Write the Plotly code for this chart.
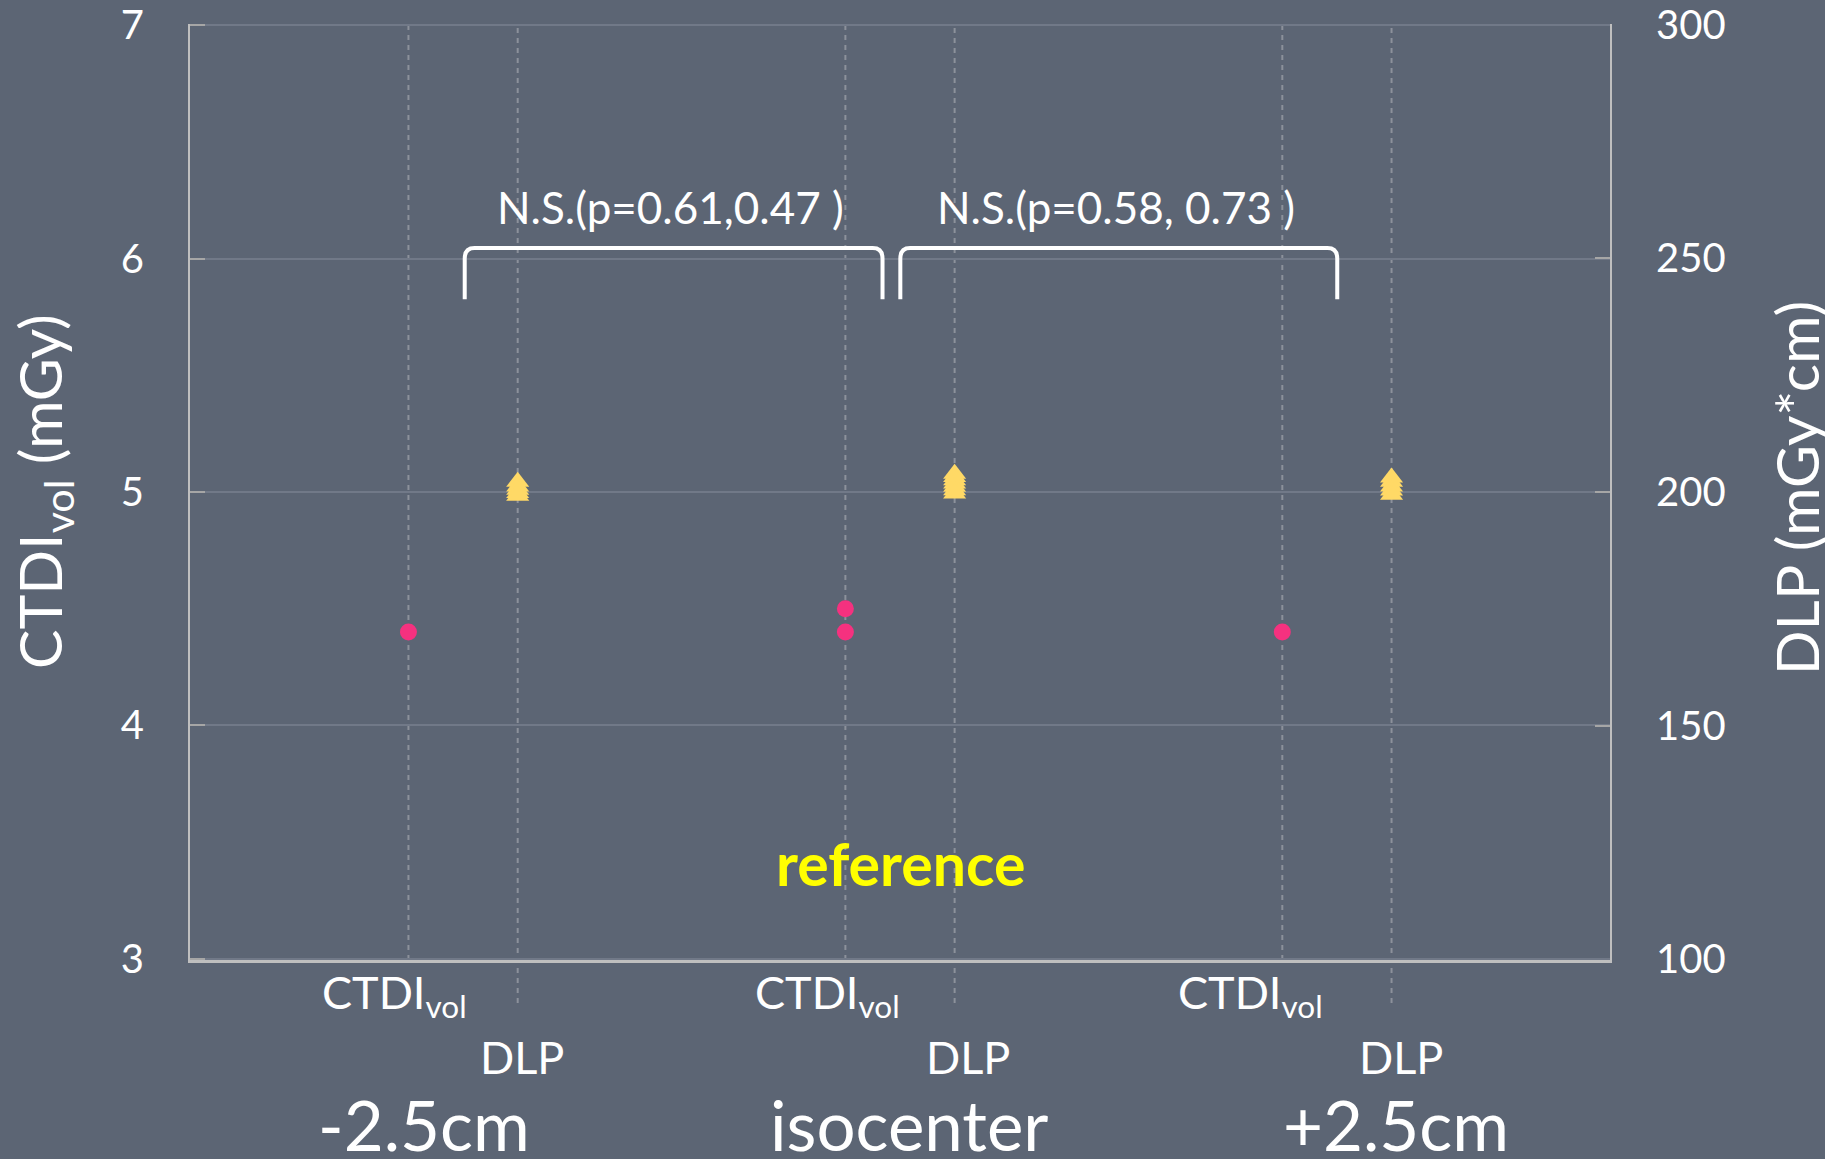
import plotly.graph_objects as go

# ---------------- data ----------------
positions = ["-2.5cm", "isocenter", "+2.5cm"]
ctdi_values = [[4.4], [4.5, 4.4], [4.4]]                      # mGy
dlp_values = [[202.2, 201.2, 200.5, 199.8, 199.2],
              [203.9, 203.2, 202.5, 201.8, 201.1, 200.4, 199.7],
              [203.1, 202.2, 201.2, 200.3, 199.4]]             # mGy*cm
pvalue_labels = ["N.S.(p=0.61,0.47 )", "N.S.(p=0.58, 0.73 )"]
row_labels = ["CTDI<sub>vol</sub>", "DLP"]
left_ticks = [3, 4, 5, 6, 7]
right_ticks = [100, 150, 200, 250, 300]

# ---------------- style / layout helpers ----------------
BG = "#5C6574"
PINK = "#F5317F"
GOLD = "#FFD966"
FONT = "Lato, Carlito, Calibri, sans-serif"
SLOT = 4          # x slots per position group
CTDI_OFF, DLP_OFF = 2, 3

fig = go.Figure()

cx, cy, dx, dy = [], [], [], []
for i, _ in enumerate(positions):
    for v in ctdi_values[i]:
        cx.append(i * SLOT + CTDI_OFF); cy.append(v)
    for v in dlp_values[i]:
        dx.append(i * SLOT + DLP_OFF); dy.append(v)

fig.add_trace(go.Scatter(x=cx, y=cy, mode="markers", name="CTDIvol",
                         marker=dict(symbol="circle", size=17, color=PINK),
                         yaxis="y"))
fig.add_trace(go.Scatter(x=dx, y=dy, mode="markers", name="DLP",
                         marker=dict(symbol="triangle-up", size=20, color=GOLD),
                         yaxis="y2"))

shapes = []
# vertical dashed guide lines
for i, _ in enumerate(positions):
    shapes.append(dict(type="line", xref="x", yref="paper",
                       x0=i * SLOT + CTDI_OFF, x1=i * SLOT + CTDI_OFF, y0=0, y1=1,
                       line=dict(color="#8C919B", width=2, dash="5px,5px"), layer="below"))
    shapes.append(dict(type="line", xref="x", yref="paper",
                       x0=i * SLOT + DLP_OFF, x1=i * SLOT + DLP_OFF, y0=-0.046, y1=1,
                       line=dict(color="#8C919B", width=2, dash="5px,5px"), layer="below"))

# brackets (rounded corners)
brackets = [(2.515, 6.34), (6.503, 10.503)]
y_top, y_bot = 6.045, 5.826
rx, ry = 0.09, 0.045
for x0, x1 in brackets:
    path = (f"M{x0},{y_bot} L{x0},{y_top - ry} Q{x0},{y_top} {x0 + rx},{y_top} "
            f"L{x1 - rx},{y_top} Q{x1},{y_top} {x1},{y_top - ry} L{x1},{y_bot}")
    shapes.append(dict(type="path", xref="x", yref="y", path=path,
                       line=dict(color="white", width=4)))

annotations = []
# p-value labels
for (x0, x1), txt in zip(brackets, pvalue_labels):
    annotations.append(dict(x=(x0 + x1) / 2 - 0.03, y=6.22, xref="x", yref="y", text=txt,
                            showarrow=False, font=dict(family=FONT, size=44, color="white")))

annotations.append(dict(x=6.5, y=3.41, xref="x", yref="y", text="<b>reference</b>",
                        showarrow=False, font=dict(family=FONT, size=59, color="#FFFF00")))

# x category labels
ctdi_label_x = [1.876, 5.84, 9.71]
dlp_label_x = [3.04, 7.12, 11.09]
group_label_x = [2.14, 6.58, 11.04]
for i, name in enumerate(positions):
    annotations.append(dict(x=ctdi_label_x[i], y=-0.037, xref="x", yref="paper",
                            text=row_labels[0], showarrow=False, yanchor="middle",
                            font=dict(family=FONT, size=45, color="white")))
    annotations.append(dict(x=dlp_label_x[i], y=-0.1035, xref="x", yref="paper",
                            text=row_labels[1], showarrow=False, yanchor="middle",
                            font=dict(family=FONT, size=45, color="white")))
    annotations.append(dict(x=group_label_x[i], y=-0.176, xref="x", yref="paper",
                            text=name, showarrow=False, yanchor="middle",
                            font=dict(family=FONT, size=69, color="white")))

# axis titles
annotations.append(dict(x=-0.1035, y=0.5, xref="paper", yref="paper", xanchor="center",
                        yanchor="middle",
                        text="CTDI<sub>vol</sub> (mGy)", textangle=-90, showarrow=False,
                        font=dict(family=FONT, size=59, color="white")))
annotations.append(dict(x=1.131, y=0.504, xref="paper", yref="paper", xanchor="center",
                        yanchor="middle",
                        text="DLP (mGy*cm)", textangle=-90, showarrow=False,
                        font=dict(family=FONT, size=59, color="white")))

fig.update_layout(
    width=1825, height=1159,
    margin=dict(l=190, r=215, t=24, b=199, autoexpand=False),
    paper_bgcolor=BG, plot_bgcolor=BG,
    showlegend=False,
    font=dict(family=FONT, color="white"),
    xaxis=dict(range=[0, 13], showgrid=False, zeroline=False, showticklabels=False,
               ticks="", showline=True, linecolor="#BFBFBF", linewidth=2.5, fixedrange=True,
               automargin=False),
    yaxis=dict(range=[2.995, 7.005], tickvals=left_ticks, showgrid=True, gridcolor="#717988",
               gridwidth=1.5, zeroline=False, showline=True, linecolor="#BFBFBF",
               linewidth=2, ticks="inside", ticklen=15, tickcolor="#A6A6A6", tickwidth=1.5,
               ticklabelstandoff=36, ticklabeloverflow="allow", automargin=False,
               tickfont=dict(family=FONT, size=40, color="white")),
    yaxis2=dict(range=[99.875, 300.125], tickvals=right_ticks, overlaying="y", side="right",
                showgrid=False, zeroline=False, showline=True, linecolor="#BFBFBF",
                linewidth=2, ticks="inside", ticklen=15, tickcolor="#A6A6A6", tickwidth=1.5,
                ticklabelstandoff=36, ticklabeloverflow="allow", automargin=False,
                tickfont=dict(family=FONT, size=40, color="white")),
    shapes=shapes,
    annotations=annotations,
)

fig.write_html("out.html",
               config={"displayModeBar": False},
               post_script="document.body.style.margin='0';"
                           "document.body.style.background='#5C6574';")
